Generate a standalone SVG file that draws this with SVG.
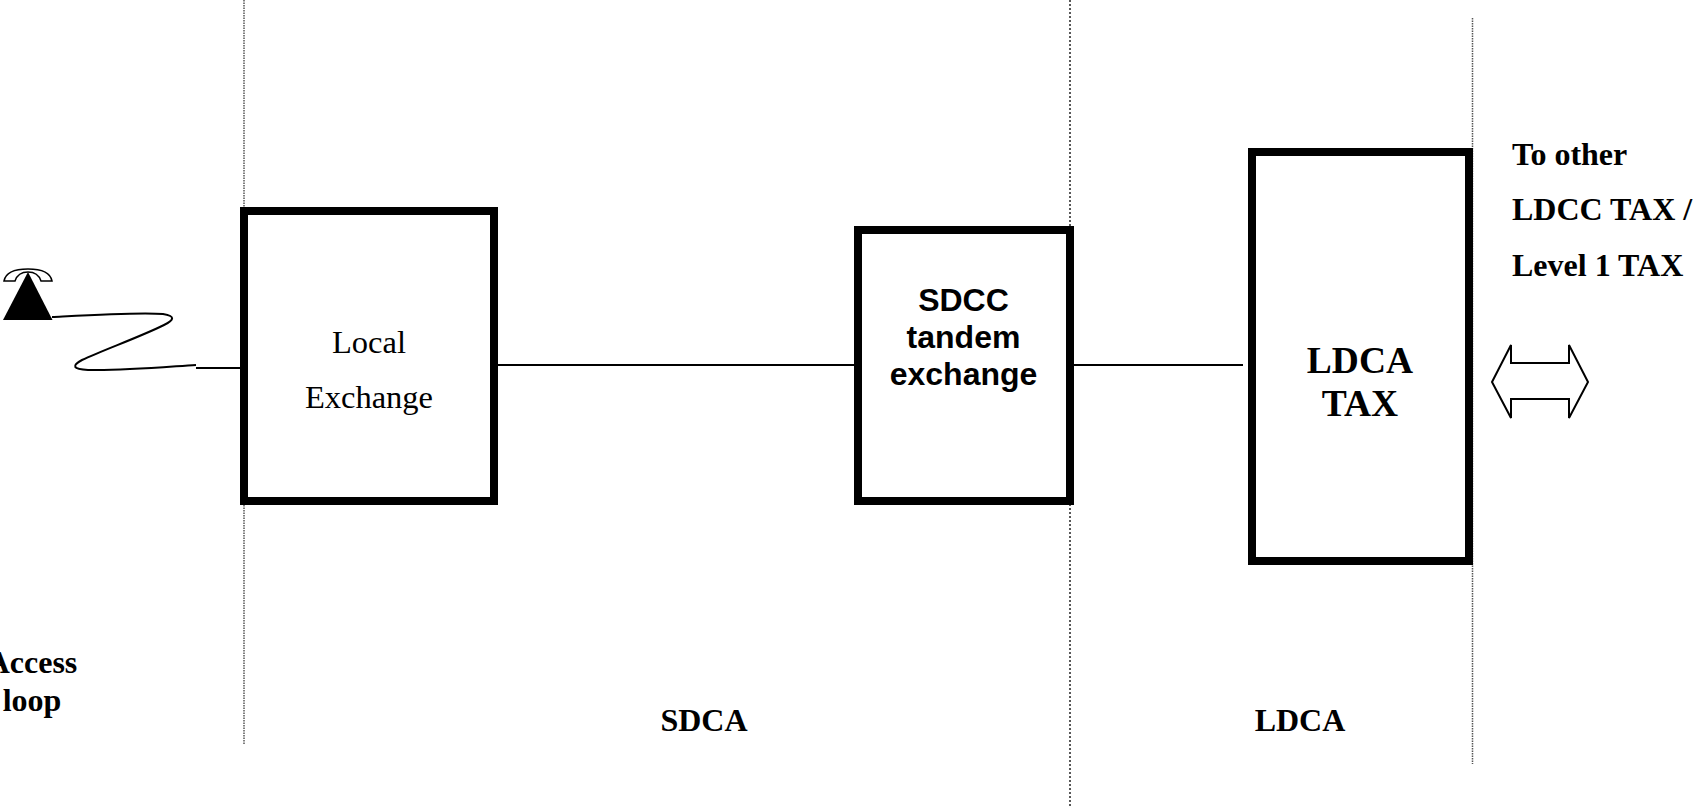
<svg xmlns="http://www.w3.org/2000/svg" width="1696" height="807" viewBox="0 0 1696 807">
<style>
.box{fill:#fff;stroke:#000;stroke-width:8}
.wire{fill:none;stroke:#000;stroke-width:2}
.sep{fill:none;stroke:#555;stroke-width:1.5;stroke-dasharray:1.5 1}
.b{font-family:"Liberation Serif",serif;font-weight:bold;fill:#000}
.r{font-family:"Liberation Serif",serif;fill:#000}
.a{font-family:"Liberation Sans",sans-serif;font-weight:bold;fill:#000}
.m{text-anchor:middle}
</style>
<rect width="1696" height="807" fill="#fff"/>
<g id="separators">
<line class="sep" x1="244" y1="0" x2="244" y2="745"/>
<line class="sep" x1="1070" y1="0" x2="1070" y2="807" style="stroke:#222;stroke-dasharray:2 2"/>
<line class="sep" x1="1472.500" y1="18" x2="1472.500" y2="764"/>
</g>
<g id="connectors">
<line class="wire" x1="196" y1="368" x2="242" y2="368"/>
<line class="wire" x1="495" y1="365" x2="857" y2="365"/>
<line class="wire" x1="1072" y1="365" x2="1243" y2="365"/>
<path class="wire" d="M52 317 C90 315 140 312 163 314 C176 316 174 320 164 325 C140 337 103 350 82 360 C71 366 73 369 88 370 C120 371 165 367 196 365"/>
</g>
<g id="phone">
<path d="M4 281 C6 270 20 269 28 269 C36 269 50 270 52 281 L41 281 C39 275 34 272 28 272 C22 272 17 275 15 281 Z" fill="#fff" stroke="#000" stroke-width="1.500"/>
<path d="M3 320 L52.500 320 L28 272 Z" fill="#000"/>
</g>
<g id="local-exchange">
<rect class="box" x="244" y="211" width="250" height="290"/>
<text class="r m" x="369" y="353" font-size="32.500">Local</text>
<text class="r m" x="369" y="408" font-size="32.500">Exchange</text>
</g>
<g id="sdcc-tandem">
<rect class="box" x="858" y="230" width="212" height="271"/>
<text class="a m" x="963.500" y="311" font-size="32">SDCC</text>
<text class="a m" x="963.500" y="348" font-size="32">tandem</text>
<text class="a m" x="963.500" y="385" font-size="32">exchange</text>
</g>
<g id="ldca-tax">
<rect class="box" x="1252" y="152" width="217" height="409"/>
<text class="b m" x="1360" y="373" font-size="37.500">LDCA</text>
<text class="b m" x="1360" y="416" font-size="37.500">TAX</text>
</g>
<g id="double-arrow">
<path d="M1492 382 L1511 345 L1511 363 L1569 363 L1569 345 L1588 382 L1569 418 L1569 399 L1511 399 L1511 418 Z" fill="#fff" stroke="#000" stroke-width="2"/>
</g>
<g id="labels">
<text class="b" x="1512" y="165" font-size="32">To other</text>
<text class="b" x="1512" y="220" font-size="32">LDCC TAX /</text>
<text class="b" x="1512" y="276" font-size="32">Level 1 TAX</text>
<text class="b m" x="32" y="673" font-size="32">Access</text>
<text class="b m" x="32" y="711" font-size="32">loop</text>
<text class="b m" x="704" y="731" font-size="32">SDCA</text>
<text class="b m" x="1300" y="731" font-size="32">LDCA</text>
</g>
</svg>
